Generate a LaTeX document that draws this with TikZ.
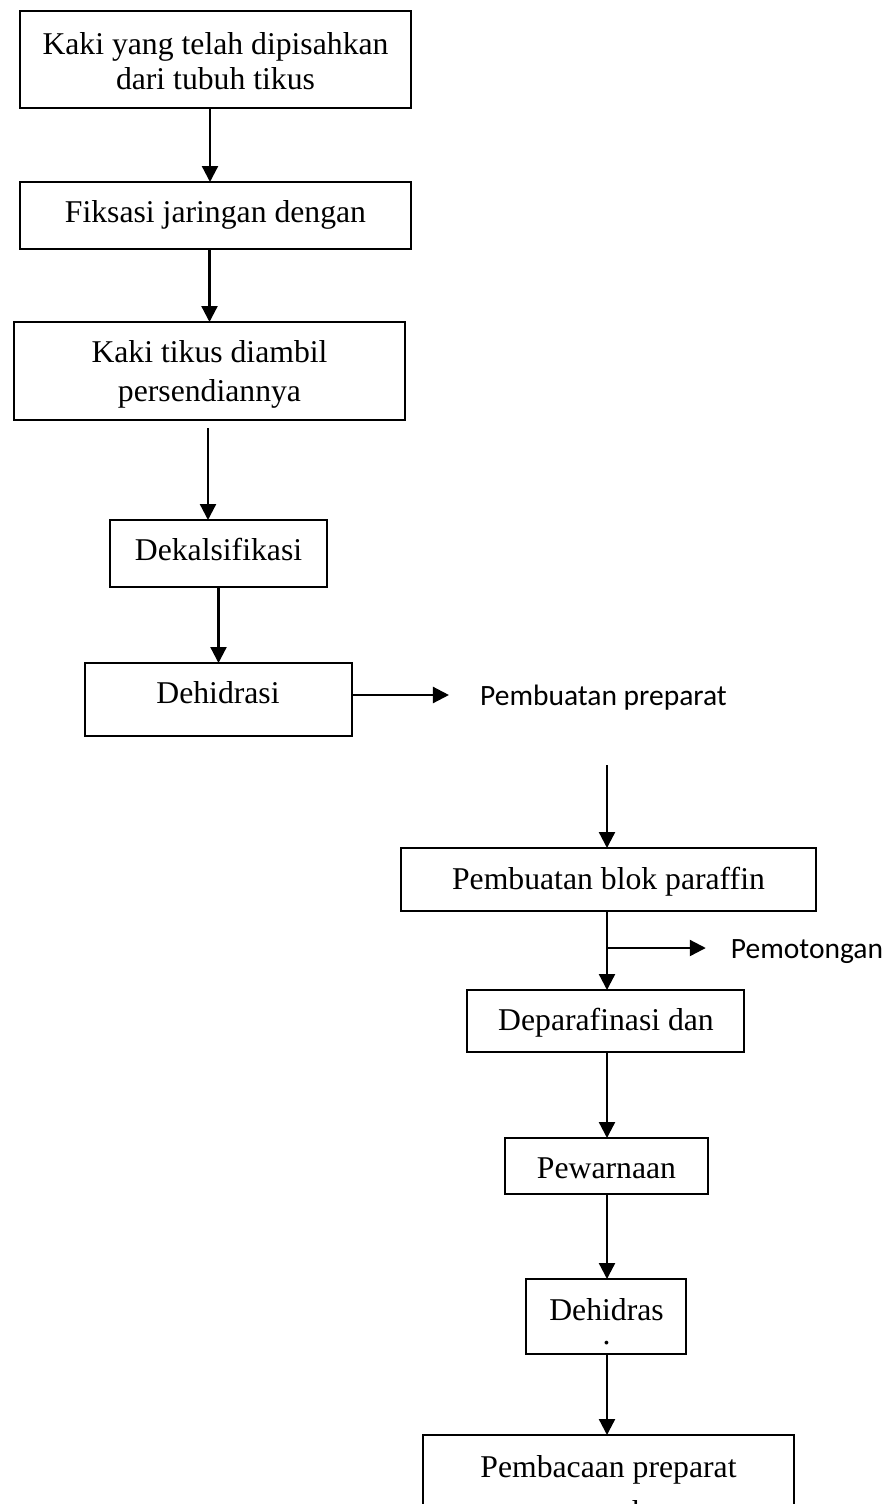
\documentclass[tikz,border=0pt]{standalone}
\usepackage{fontspec}
\setmainfont{Liberation Serif}
\newfontfamily\calibrifont{Carlito}
\usetikzlibrary{arrows.meta}
\begin{document}
\begin{tikzpicture}[x=1pt,y=-1pt,
  box/.style={draw, line width=2.3pt, inner sep=0pt, outer sep=0pt},
  lbl/.style={anchor=base, inner sep=0pt, font=\fontsize{31.7}{36}\selectfont},
  side/.style={anchor=base, inner sep=0pt, font=\calibrifont\fontsize{29.5}{34}\selectfont},
  arr/.style={line width=2.3pt, -{Triangle[length=16pt,width=16pt]}},
]
\clip (0,0) rectangle (890,1504);
\fill[white] (0,0) rectangle (890,1504);

% boxes
\node[box, minimum width=391pt, minimum height=97pt] (b1) at (215.5,59.5) {};
\node[box, minimum width=391pt, minimum height=67pt] (b2) at (215.5,215.5) {};
\node[box, minimum width=391pt, minimum height=98pt] (b3) at (209.5,371) {};
\node[box, minimum width=217pt, minimum height=67pt] (b4) at (218.5,553.5) {};
\node[box, minimum width=267pt, minimum height=73pt] (b5) at (218.5,699.5) {};
\node[box, minimum width=415pt, minimum height=63pt] (b6) at (608.5,879.5) {};
\node[box, minimum width=277pt, minimum height=62pt] (b7) at (605.5,1021) {};
\node[box, minimum width=203pt, minimum height=56pt] (b8) at (606.5,1166) {};
\node[box, minimum width=160pt, minimum height=75pt] (b9) at (606,1316.5) {};
\node[box, minimum width=371pt, minimum height=165pt] (b10) at (608.5,1517.5) {};

% texts
\node[lbl] (t1a) at (215.5,55) {Kaki yang telah dipisahkan};
\node[lbl] (t1b) at (215.5,89) {dari tubuh tikus};
\node[lbl] (t2) at (215.5,222) {Fiksasi jaringan dengan};
\node[lbl] (t3a) at (209.5,362) {Kaki tikus diambil};
\node[lbl] (t3b) at (209.5,401) {persendiannya};
\node[lbl] (t4) at (218.5,560) {Dekalsifikasi};
\node[lbl] (t5) at (218,703) {Dehidrasi};
\node[side] (pp) at (603.5,705) {Pembuatan preparat};
\node[lbl] (t6) at (608.5,889) {Pembuatan blok paraffin};
\node[side] (pm) at (807,958) {Pemotongan};
\node[lbl] (t7) at (606,1030) {Deparafinasi dan};
\node[lbl] (t8) at (606.5,1178) {Pewarnaan};
\node[lbl, align=center, anchor=north] (t9) at (606.5,1298.5) {Dehidras\\[-12pt].};
\node[lbl] (t10a) at (608.5,1477) {Pembacaan preparat};
\node[lbl] (t10b) at (640,1522) {h};

% connectors
\coordinate (c5) at (352,695);
\coordinate (c6) at (607,765);
\coordinate (br) at (607,948);
\draw[arr] ([xshift=-5.5pt]b1.south) -- ([xshift=-5.5pt]b2.north);
\draw[arr] (b2.south -| b3.north) -- (b3.north);
\draw[arr] ([xshift=-1.5pt,yshift=-8pt]b3.south) -- ([xshift=-10.5pt]b4.north);
\draw[arr] (b4.south) -- (b5.north);
\draw[arr] (c5) -- ([xshift=-31pt]pp.west |- c5);
\draw[arr] (c6) -- (c6 |- b6.north);
\draw[arr] (b6.south -| c6) -- (b7.north -| c6);
\draw[arr] (br) -- ([xshift=-25pt]pm.west |- br);
\draw[arr] (b7.south -| c6) -- (b8.north -| c6);
\draw[arr] (b8.south -| c6) -- (b9.north -| c6);
\draw[arr] (b9.south -| c6) -- (b10.north -| c6);
\end{tikzpicture}
\end{document}
